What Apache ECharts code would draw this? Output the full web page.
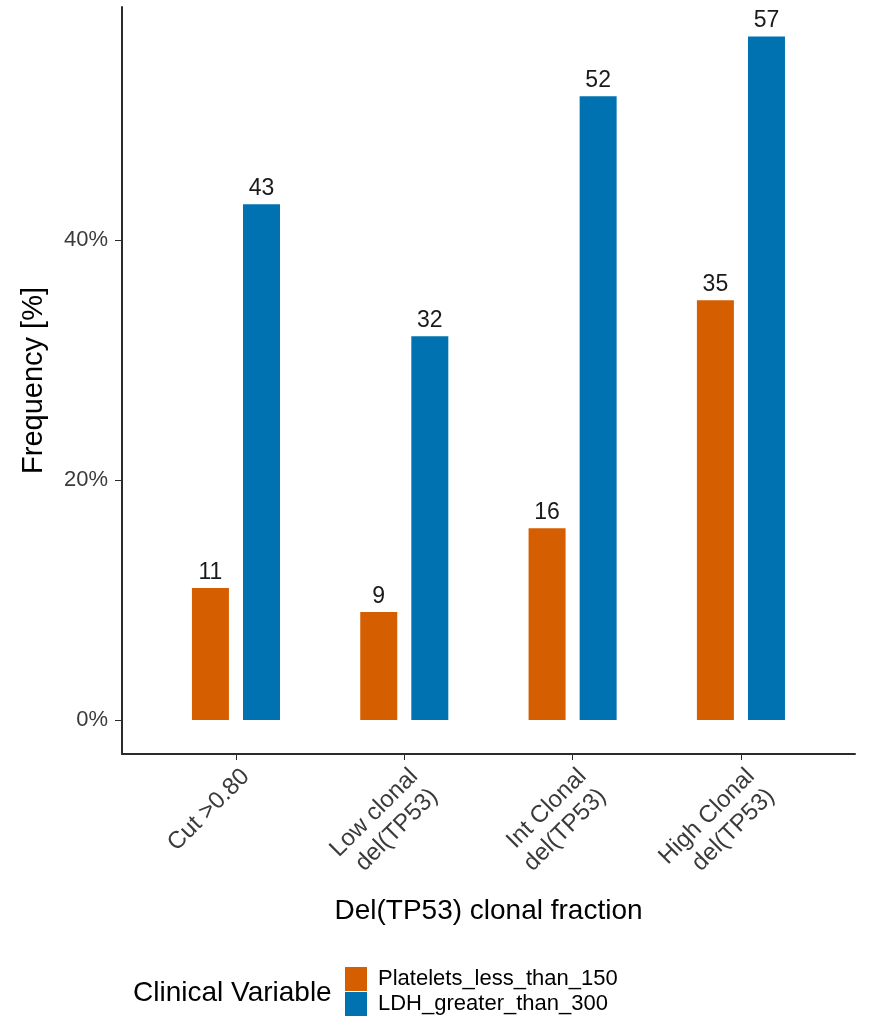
<!DOCTYPE html>
<html>
<head>
<meta charset="utf-8">
<title>Del(TP53) clonal fraction</title>
<script src="https://cdn.jsdelivr.net/npm/echarts@6/dist/echarts.min.js"></script>
<style>
  html, body { margin: 0; padding: 0; background: #ffffff; }
  #chart { width: 871px; height: 1023px; }
</style>
</head>
<body>
<div id="chart"></div>
<script>
// Categories on the x axis (clonal fraction groups)
const categories = ['Cut >0.80', 'Low clonal\ndel(TP53)', 'Int Clonal\ndel(TP53)', 'High Clonal\ndel(TP53)'];
// Frequency (%) of each clinical variable per group
const plateletsLess150 = [11, 9, 16, 35];
const ldhGreater300 = [43, 32, 52, 57];
// Labelled ticks on the y axis
const yTicks = [0, 20, 40];

const seriesNames = ['Platelets_less_than_150', 'LDH_greater_than_300'];
const colors = ['#D55E00', '#0072B2'];

const FONT = 'Liberation Sans, Arial, Helvetica, sans-serif';
const AXIS_COLOR = '#2b2b2b';
const TICK_TEXT = '#3a3a3a';
const yMin = -2.83, yMax = 59.45;

const chart = echarts.init(document.getElementById('chart'), null, { renderer: 'canvas' });

const option = {
  backgroundColor: '#ffffff',
  animation: false,
  textStyle: { fontFamily: FONT },
  grid: [
    // panel frame carrying the axis lines
    { left: 122, right: 16, top: 7, bottom: 269, containLabel: false },
    // band area holding the grouped bars
    { left: 151.8, right: 45.9, top: 7, bottom: 269, containLabel: false }
  ],
  xAxis: [
    {
      gridIndex: 0, type: 'value', min: 0, max: 1,
      name: 'Del(TP53) clonal fraction', nameLocation: 'middle', nameGap: 143,
      nameTextStyle: { fontSize: 28, color: '#000', fontFamily: FONT },
      axisLine: { show: true, onZero: false, lineStyle: { color: AXIS_COLOR, width: 2 } },
      axisTick: { show: false }, axisLabel: { show: false }, splitLine: { show: false }
    },
    {
      gridIndex: 1, type: 'category', data: categories,
      axisLine: { show: false, onZero: false },
      axisTick: { show: true, alignWithLabel: true, length: 6, lineStyle: { color: AXIS_COLOR, width: 1 } },
      axisLabel: {
        rotate: 45, margin: 9, fontSize: 24, color: TICK_TEXT, fontFamily: FONT,
        align: 'right', verticalAlign: 'top', lineHeight: 28, interval: 0
      },
      splitLine: { show: false }
    }
  ],
  yAxis: [
    {
      gridIndex: 0, type: 'value', min: yMin, max: yMax,
      name: 'Frequency [%]', nameLocation: 'middle', nameGap: 74,
      nameTextStyle: { fontSize: 29, color: '#000', fontFamily: FONT },
      axisLine: { show: true, onZero: false, lineStyle: { color: AXIS_COLOR, width: 2 } },
      axisTick: { show: true, length: 7, customValues: yTicks, lineStyle: { color: AXIS_COLOR, width: 1 } },
      axisLabel: {
        show: true, margin: 14, fontSize: 22, color: TICK_TEXT, fontFamily: FONT,
        customValues: yTicks, formatter: v => v + '%'
      },
      splitLine: { show: false }
    },
    {
      gridIndex: 1, type: 'value', min: yMin, max: yMax, show: false
    }
  ],
  title: {
    text: 'Clinical Variable', left: 133, top: 979,
    textStyle: { fontSize: 28, fontWeight: 'normal', color: '#000', fontFamily: FONT, lineHeight: 28 },
    padding: 0
  },
  legend: {
    data: seriesNames, orient: 'vertical', left: 345, top: 967, padding: 0,
    icon: 'rect', itemWidth: 22, itemHeight: 24, itemGap: 1,
    textStyle: { fontSize: 22, color: '#000', fontFamily: FONT, padding: [0, 0, 0, 6] },
    selectedMode: false
  },
  series: [
    {
      name: seriesNames[0], type: 'bar', xAxisIndex: 1, yAxisIndex: 1,
      data: plateletsLess150, barWidth: 37, barGap: '38%',
      itemStyle: { color: colors[0] },
      label: { show: true, position: 'top', distance: 4, fontSize: 23, color: '#1a1a1a', fontFamily: FONT }
    },
    {
      name: seriesNames[1], type: 'bar', xAxisIndex: 1, yAxisIndex: 1,
      data: ldhGreater300, barWidth: 37, barGap: '38%',
      itemStyle: { color: colors[1] },
      label: { show: true, position: 'top', distance: 4, fontSize: 23, color: '#1a1a1a', fontFamily: FONT }
    }
  ]
};

chart.setOption(option);
</script>
</body>
</html>
